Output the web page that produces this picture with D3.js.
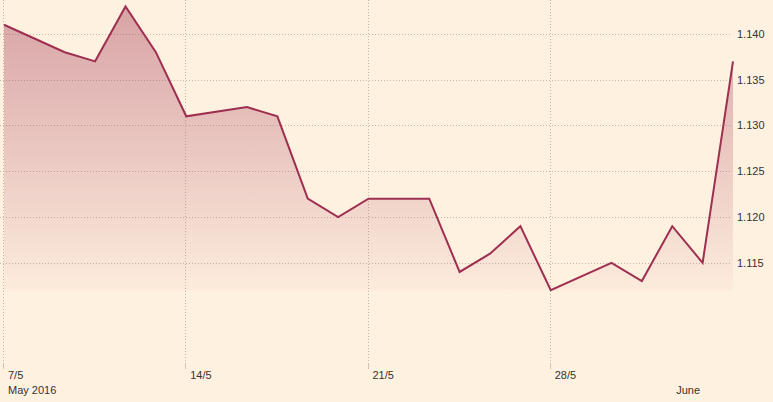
<!DOCTYPE html>
<html><head><meta charset="utf-8">
<script src="https://cdn.jsdelivr.net/npm/d3@7"></script>
<style>
html,body{margin:0;padding:0;background:#fff1e0;}
svg{display:block;font-family:"Liberation Sans",Arial,sans-serif;}
</style></head><body>
<svg id="c" width="773" height="402"></svg>
<script>
// slot index along the x-axis (trading-day slots) and EUR/USD values (null = no point)
const slots = d3.range(0, 25);
const values = [1.141, null, 1.138, 1.137, 1.143, 1.138, 1.131, null, 1.132, 1.131, 1.122, 1.120, 1.122, null,
                1.122, 1.114, 1.116, 1.119, 1.112, null, 1.115, 1.113, 1.119, 1.115, 1.137];
const yTicks = [1.115, 1.120, 1.125, 1.130, 1.135, 1.140];
const xTickSlots = [0, 6, 12, 18];
const xTickLabels = ["7/5", "14/5", "21/5", "28/5"];
const monthSlots = [0, 22];
const monthLabels = ["May 2016", "June"];

const svg = d3.select("#c");
const x = d3.scaleLinear().domain([0, 24]).range([4, 733]);
const y = d3.scaleLinear().domain([1.1034, 1.1437]).range([369, 0]);

const data = slots.map((s, i) => ({s, v: values[i]})).filter(d => d.v !== null);
const vmin = d3.min(data, d => d.v), vmax = d3.max(data, d => d.v);

const defs = svg.append("defs");
const grad = defs.append("linearGradient").attr("id", "g")
  .attr("gradientUnits", "userSpaceOnUse")
  .attr("x1", 0).attr("x2", 0).attr("y1", y(vmax)).attr("y2", y(vmin));
grad.append("stop").attr("offset", "0%").attr("stop-color", "#9e2f50").attr("stop-opacity", 0.4);
grad.append("stop").attr("offset", "100%").attr("stop-color", "#9e2f50").attr("stop-opacity", 0.03);

// horizontal gridlines
svg.append("g").selectAll("line").data(yTicks).join("line")
  .attr("x1", 0).attr("x2", 732)
  .attr("y1", d => Math.round(y(d)) + 0.5).attr("y2", d => Math.round(y(d)) + 0.5)
  .attr("stroke", "#c4b8ad").attr("stroke-dasharray", "1,2");

// vertical gridlines
const vg = svg.append("g");
vg.selectAll("line.grid").data(xTickSlots).join("line").attr("class", "grid")
  .attr("x1", d => Math.round(x(d)) - 0.5).attr("x2", d => Math.round(x(d)) - 0.5)
  .attr("y1", 0).attr("y2", 363)
  .attr("stroke", "#c4b8ad").attr("stroke-dasharray", "1,2");
vg.selectAll("line.tick").data(xTickSlots).join("line").attr("class", "tick")
  .attr("x1", d => Math.round(x(d)) - 0.5).attr("x2", d => Math.round(x(d)) - 0.5)
  .attr("y1", 363).attr("y2", 369)
  .attr("stroke", "#cfc3b7");

// area
svg.append("path").datum(data)
  .attr("d", d3.area().x(d => x(d.s)).y0(y(vmin)).y1(d => y(d.v)))
  .attr("fill", "url(#g)");

// line
svg.append("path").datum(data)
  .attr("d", d3.line().x(d => x(d.s)).y(d => y(d.v)))
  .attr("fill", "none").attr("stroke", "#9e2f50").attr("stroke-width", 2)
  .attr("stroke-linejoin", "miter");

// y labels
svg.append("g").selectAll("text").data(yTicks).join("text")
  .attr("x", 737).attr("y", d => y(d)).attr("dy", "0.35em")
  .attr("font-size", 11).attr("fill", "#333")
  .text(d => d3.format(".3f")(d));

// x labels
svg.append("g").selectAll("text").data(xTickSlots).join("text")
  .attr("x", d => x(d) + 4).attr("y", 379)
  .attr("font-size", 11).attr("fill", "#333")
  .text((d, i) => xTickLabels[i]);
svg.append("g").selectAll("text").data(monthSlots).join("text")
  .attr("x", d => x(d) + 4).attr("y", 394)
  .attr("font-size", 11).attr("fill", "#333")
  .text((d, i) => monthLabels[i]);
</script></body></html>
